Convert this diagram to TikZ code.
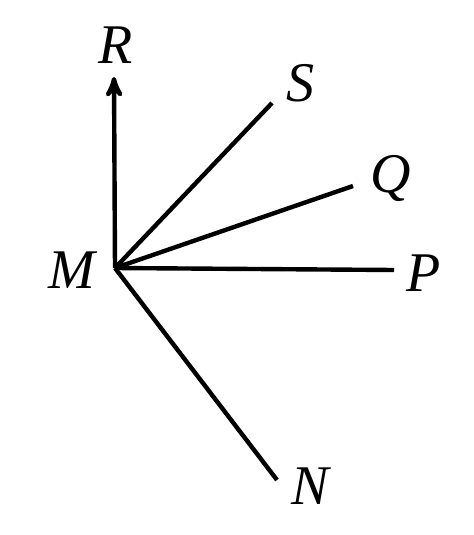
\documentclass[tikz,border=0pt]{standalone}
\usepackage{fontspec}
\setmainfont{Liberation Serif}[ItalicFont={Liberation Serif Italic}]
\usepackage{tikz}
\usetikzlibrary{arrows}

\begin{document}
\begin{tikzpicture}[>=stealth',x=0.5pt,y=-0.5pt,line width=2.2pt,
        lbl/.style={font=\fontsize{28}{32}\selectfont\itshape,inner sep=0pt}]
  \useasboundingbox (0,0) rectangle (474,535);

  \coordinate (M) at (115,268);
  \coordinate (R) at (114,77);
  \coordinate (S) at (272,103);
  \coordinate (Q) at (353,186);
  \coordinate (P) at (394,270);
  \coordinate (N) at (277,480);

  \node[lbl] (r) at (116,45)  {R};
  \node[lbl] (s) at (300,83)  {S};
  \node[lbl] (q) at (391,178) {Q};
  \node[lbl] (p) at (424,273) {P};
  \node[lbl] (m) at (72,270)  {M};
  \node[lbl] (n) at (310,486) {N};

  \path (M) edge [->] (R)
        (M) edge (S)
        (M) edge (Q)
        (M) edge (P)
        (M) edge (N);

\end{tikzpicture}
\end{document}
